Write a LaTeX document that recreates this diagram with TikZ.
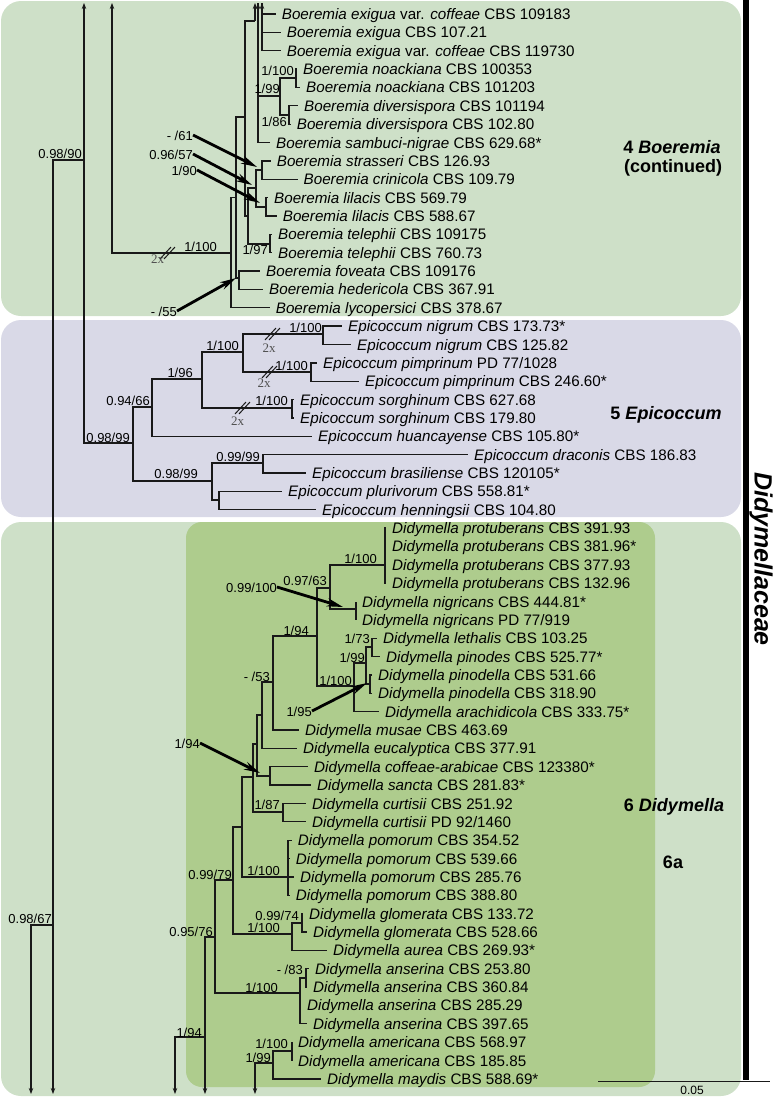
\documentclass[tikz,border=0pt]{standalone}
\usepackage{fontspec}
\setmainfont{Liberation Sans}
\newfontfamily\twoxfont{Liberation Serif}
\usetikzlibrary{arrows.meta, calc}
\definecolor{cBoer}{RGB}{206,224,200}
\definecolor{cEpic}{RGB}{217,217,231}
\definecolor{cDidA}{RGB}{174,204,141}
\definecolor{cLine}{RGB}{25,25,25}
\definecolor{cTwoX}{RGB}{80,80,80}
\tikzset{
  branch/.style={draw=cLine, line width=1.3pt},
  tipend/.style={-{Stealth[length=6pt,width=4.5pt]}},
  taxon/.style={anchor=west, inner sep=0pt, font=\fontsize{15.2}{18}\selectfont,
                text height=13pt, text depth=2pt},
  suplbl/.style={anchor=east, inner sep=0pt, font=\fontsize{13}{15}\selectfont,
                 text height=11pt, text depth=1pt},
  suparrow/.style={draw=black, line width=2.8pt, -{Stealth[length=16pt,width=8pt]}},
  twox/.style={font=\twoxfont\fontsize{13}{15}\selectfont, text=cTwoX, inner sep=0pt},
  cladelbl/.style={font=\bfseries\fontsize{18}{21}\selectfont, inner sep=0pt},
  brk/.pic={\draw[cLine, line width=1pt] (-7,6) -- (4,-6) (-3,6) -- (8,-6);},
}

\begin{document}
\begin{tikzpicture}[x=1pt, y=-1pt]
\useasboundingbox (0,0) rectangle (774,1098);

%% ============================================================
%%  CLADE BOXES
%% ============================================================
\fill[cBoer, rounded corners=20pt] (1,1) rectangle (741,316);
\fill[cEpic, rounded corners=20pt] (1,320) rectangle (741,517);
\fill[cBoer, rounded corners=20pt] (1,522) rectangle (741,1096);
\fill[cDidA, rounded corners=16pt] (186,522) rectangle (655,1087);
\fill[black] (743,0) rectangle (748.5,1080);

%% ============================================================
%%  INTERNAL NODES
%% ============================================================
%% Boeremia
\coordinate (bTop) at (112,3);
\coordinate (bUp1) at (255,3);
\coordinate (bUp2) at (258,3);
\coordinate (bUp3) at (262,3);
\coordinate (nB0) at (231,253);
\coordinate (nB1) at (236,197.5);
\coordinate (nB2) at (239,278);
\coordinate (nB3) at (245,117);
\coordinate (nB3a) at (255,21);
\coordinate (nB4) at (248,216);
\coordinate (nB5) at (262,170);
\coordinate (nB6) at (256,188);
\coordinate (nB7) at (266,207);
\coordinate (nB8) at (270,244);
\coordinate (nD1) at (280,96);
\coordinate (nD2) at (296,78);
\coordinate (nD3) at (289,115);
%% Epicoccum
\coordinate (eTop) at (84,3);
\coordinate (nF0) at (84,160);
\coordinate (nE0) at (133,443);
\coordinate (nE5) at (152,407);
\coordinate (nE6) at (202,379);
\coordinate (nE7) at (243,352);
\coordinate (nNig) at (323,334);
\coordinate (nPim) at (311,372);
\coordinate (nSor) at (292,408);
\coordinate (nE2) at (212,481);
\coordinate (nE4) at (263,463);
\coordinate (nE3) at (219,500);
%% backbone
\coordinate (rBot1) at (31,1094);
\coordinate (rBot2) at (53,1094);
\coordinate (nR2) at (53,925);
%% Didymella
\coordinate (mBot0) at (175,1094);
\coordinate (mBot1) at (205,1094);
\coordinate (nM1) at (205,1037);
\coordinate (nM2) at (215,937);
\coordinate (nM3) at (233,880);
\coordinate (nM4) at (242,827);
\coordinate (nM5) at (253,777);
\coordinate (nM6) at (257,744);
\coordinate (nM7) at (262,715);
\coordinate (nM8) at (273,682);
\coordinate (nM9) at (317,636);
\coordinate (nM10) at (330,588);
\coordinate (nPro) at (385,565);
\coordinate (nNgr) at (356,609);
\coordinate (nL) at (354,686);
\coordinate (nL1) at (366,663);
\coordinate (nL2) at (372,647);
\coordinate (nPdl) at (370,684);
\coordinate (nCof) at (270,776);
\coordinate (nCur) at (283,812);
\coordinate (nPom) at (288,877);
\coordinate (nGlo) at (292,934);
\coordinate (nGl2) at (302,923);
\coordinate (nAns) at (300,993);
\coordinate (nAn2) at (306,978);
\coordinate (aBot) at (255,1094);
\coordinate (nA1) at (273,1063);
\coordinate (nAm) at (292,1051);

%% ============================================================
%%  TAXA
%% ============================================================
\node[taxon] (bEx1) at (281.7,14.0) {\textit{Boeremia exigua} var. \textit{coffeae} CBS 109183};
\node[taxon] (bEx2) at (286.7,32.4) {\textit{Boeremia exigua} CBS 107.21};
\node[taxon] (bEx3) at (286.7,50.7) {\textit{Boeremia exigua} var. \textit{coffeae} CBS 119730};
\node[taxon] (bNoa1) at (303,69.1) {\textit{Boeremia noackiana} CBS 100353};
\node[taxon] (bNoa2) at (306,87.4) {\textit{Boeremia noackiana} CBS 101203};
\node[taxon] (bDiv1) at (304,105.8) {\textit{Boeremia diversispora} CBS 101194};
\node[taxon] (bDiv2) at (296.7,124.2) {\textit{Boeremia diversispora} CBS 102.80};
\node[taxon] (bSam) at (276,142.5) {\textit{Boeremia sambuci-nigrae} CBS 629.68*};
\node[taxon] (bStr) at (276.7,160.9) {\textit{Boeremia strasseri} CBS 126.93};
\node[taxon] (bCri) at (303.5,179.2) {\textit{Boeremia crinicola} CBS 109.79};
\node[taxon] (bLil1) at (274,197.6) {\textit{Boeremia lilacis} CBS 569.79};
\node[taxon] (bLil2) at (282.7,216.0) {\textit{Boeremia lilacis} CBS 588.67};
\node[taxon] (bTel1) at (278,234.3) {\textit{Boeremia telephii} CBS 109175};
\node[taxon] (bTel2) at (278,252.7) {\textit{Boeremia telephii} CBS 760.73};
\node[taxon] (bFov) at (266,271.0) {\textit{Boeremia foveata} CBS 109176};
\node[taxon] (bHed) at (269,289.4) {\textit{Boeremia hedericola} CBS 367.91};
\node[taxon] (bLyc) at (275.7,307.8) {\textit{Boeremia lycopersici} CBS 378.67};

\node[taxon] (eNig1) at (348,326.1) {\textit{Epicoccum nigrum} CBS 173.73*};
\node[taxon] (eNig2) at (357,344.5) {\textit{Epicoccum nigrum} CBS 125.82};
\node[taxon] (ePim1) at (323,362.9) {\textit{Epicoccum pimprinum} PD 77/1028};
\node[taxon] (ePim2) at (365,381.2) {\textit{Epicoccum pimprinum} CBS 246.60*};
\node[taxon] (eSor1) at (300,399.6) {\textit{Epicoccum sorghinum} CBS 627.68};
\node[taxon] (eSor2) at (300,417.9) {\textit{Epicoccum sorghinum} CBS 179.80};
\node[taxon] (eHua) at (318,436.3) {\textit{Epicoccum huancayense} CBS 105.80*};
\node[taxon] (eDra) at (474,454.6) {\textit{Epicoccum draconis} CBS 186.83};
\node[taxon] (eBra) at (312,473.0) {\textit{Epicoccum brasiliense} CBS 120105*};
\node[taxon] (ePlu) at (288,491.4) {\textit{Epicoccum plurivorum} CBS 558.81*};
\node[taxon] (eHen) at (322,509.7) {\textit{Epicoccum henningsii} CBS 104.80};

\node[taxon] (dPro1) at (392,528.1) {\textit{Didymella protuberans} CBS 391.93};
\node[taxon] (dPro2) at (392,546.4) {\textit{Didymella protuberans} CBS 381.96*};
\node[taxon] (dPro3) at (392,564.8) {\textit{Didymella protuberans} CBS 377.93};
\node[taxon] (dPro4) at (392,583.2) {\textit{Didymella protuberans} CBS 132.96};
\node[taxon] (dNig1) at (362,601.5) {\textit{Didymella nigricans} CBS 444.81*};
\node[taxon] (dNig2) at (362,619.9) {\textit{Didymella nigricans} PD 77/919};
\node[taxon] (dLet) at (383,638.2) {\textit{Didymella lethalis} CBS 103.25};
\node[taxon] (dPin) at (386,656.6) {\textit{Didymella pinodes} CBS 525.77*};
\node[taxon] (dPdl1) at (378,675.0) {\textit{Didymella pinodella} CBS 531.66};
\node[taxon] (dPdl2) at (378,693.3) {\textit{Didymella pinodella} CBS 318.90};
\node[taxon] (dAra) at (385,711.7) {\textit{Didymella arachidicola} CBS 333.75*};
\node[taxon] (dMus) at (305,730.0) {\textit{Didymella musae} CBS 463.69};
\node[taxon] (dEuc) at (303,748.4) {\textit{Didymella eucalyptica} CBS 377.91};
\node[taxon] (dCof) at (314,766.8) {\textit{Didymella coffeae-arabicae} CBS 123380*};
\node[taxon] (dSan) at (317,785.1) {\textit{Didymella sancta} CBS 281.83*};
\node[taxon] (dCur1) at (312,803.5) {\textit{Didymella curtisii} CBS 251.92};
\node[taxon] (dCur2) at (312,821.8) {\textit{Didymella curtisii} PD 92/1460};
\node[taxon] (dPom1) at (297.7,840.2) {\textit{Didymella pomorum} CBS 354.52};
\node[taxon] (dPom2) at (295.7,858.6) {\textit{Didymella pomorum} CBS 539.66};
\node[taxon] (dPom3) at (300,876.9) {\textit{Didymella pomorum} CBS 285.76};
\node[taxon] (dPom4) at (295.7,895.3) {\textit{Didymella pomorum} CBS 388.80};
\node[taxon] (dGlo1) at (309,913.6) {\textit{Didymella glomerata} CBS 133.72};
\node[taxon] (dGlo2) at (313,932.0) {\textit{Didymella glomerata} CBS 528.66};
\node[taxon] (dAur) at (333,950.4) {\textit{Didymella aurea} CBS 269.93*};
\node[taxon] (dAns1) at (315,968.7) {\textit{Didymella anserina} CBS 253.80};
\node[taxon] (dAns2) at (313,987.1) {\textit{Didymella anserina} CBS 360.84};
\node[taxon] (dAns3) at (307,1005.4) {\textit{Didymella anserina} CBS 285.29};
\node[taxon] (dAns4) at (313,1023.8) {\textit{Didymella anserina} CBS 397.65};
\node[taxon] (dAme1) at (298,1042.2) {\textit{Didymella americana} CBS 568.97};
\node[taxon] (dAme2) at (298,1060.5) {\textit{Didymella americana} CBS 185.85};
\node[taxon] (dMay) at (327,1078.9) {\textit{Didymella maydis} CBS 588.69*};

%% ============================================================
%%  BRANCHES
%% ============================================================
\foreach \p/\c in {nB0/nB1, nB1/nB3, nB1/nB2, nB3/nB3a, nB3/nB4, nB4/nB6, nB4/nB8,
                   nB6/nB5, nB6/nB7, bUp2/nD1, nD1/nD2, nD1/nD3,
                   nE0/nE5, nE0/nE2, nE5/nE6, nE6/nE7, nE6/nSor, nE7/nNig, nE7/nPim,
                   nE2/nE4, nE2/nE3,
                   nM2/nM3, nM2/nAns, nM3/nM4, nM3/nGlo, nM4/nM5, nM4/nPom, nM5/nM6,
                   nM5/nCur, nM6/nM7, nM6/nCof, nM7/nM8, nM8/nM9, nM9/nM10, nM9/nL,
                   nM10/nPro, nM10/nNgr, nL/nL1, nL1/nL2, nL1/nPdl, nGlo/nGl2,
                   nAns/nAn2, nA1/nAm}
  \draw[branch] (\p) |- (\c);

\foreach \p/\c in {bUp3/bEx1, bUp3/bEx2, nD2/bNoa1, nD2/bNoa2, nD3/bDiv1, nD3/bDiv2,
                   nB5/bStr, nB5/bCri, nB7/bLil1, nB7/bLil2, nB8/bTel1, nB8/bTel2,
                   nB2/bFov, nB2/bHed, nB0/bLyc,
                   nNig/eNig1, nNig/eNig2, nPim/ePim1, nPim/ePim2, nSor/eSor1, nSor/eSor2,
                   nE5/eHua, nE4/eDra, nE4/eBra, nE3/ePlu, nE3/eHen,
                   nPro/dPro1, nPro/dPro2, nPro/dPro3, nPro/dPro4, nNgr/dNig1, nNgr/dNig2,
                   nL2/dLet, nL2/dPin, nPdl/dPdl1, nPdl/dPdl2, nL/dAra, nM8/dMus,
                   nM7/dEuc, nCof/dCof, nCof/dSan, nCur/dCur1, nCur/dCur2,
                   nPom/dPom1, nPom/dPom2, nPom/dPom3, nPom/dPom4, nGl2/dGlo1, nGl2/dGlo2,
                   nGlo/dAur, nAn2/dAns1, nAn2/dAns2, nAns/dAns3, nAns/dAns4,
                   nAm/dAme1, nAm/dAme2, nA1/dMay}
  \draw[branch] (\p) |- ([xshift=-6pt]\c.west);

%% continuation arrows (previous / next page)
\draw[branch, tipend] (nB0) -| (bTop);
\draw[branch, tipend] (nB3a) -- (bUp1);
\draw[branch, tipend] ([xshift=-6pt]bSam.west) -| (bUp2);
\draw[branch, tipend] ([xshift=-6pt]bEx3.west) -| (bUp3);
\draw[branch, tipend] (nE0) -| (eTop);
\draw[branch, tipend] (nF0) -| (rBot2);
\draw[branch, tipend] (nR2) -| (rBot1);
\draw[branch, tipend] (nM2) -| (mBot1);
\draw[branch, tipend] (nM1) -| (mBot0);
\draw[branch, tipend] (nA1) -| (aBot);

%% long-branch breaks
\pic at (167,253) {brk};
\pic at (272,334) {brk};
\pic at (269,372) {brk};
\pic at (242,408) {brk};
\node[twox] (tx1) at (157.5,259) {2x};
\node[twox] (tx2) at (269,348) {2x};
\node[twox] (tx3) at (264,383) {2x};
\node[twox] (tx4) at (237.5,421) {2x};

%% ============================================================
%%  SUPPORT VALUES
%% ============================================================
\node[suplbl] (sF0) at (82,153) {0.98/90};
\node[suplbl] (sB5) at (193,135) {- /61};
\node[suplbl] (sB6) at (193,154) {0.96/57};
\node[suplbl] (sB7) at (197,170) {1/90};
\node[suplbl] (sB0) at (217,246) {1/100};
\node[suplbl] (sB8) at (268,249) {1/97};
\node[suplbl] (sB2) at (177,311) {- /55};
\node[suplbl] (sD2) at (294,70) {1/100};
\node[suplbl] (sD1) at (280,88) {1/99};
\node[suplbl] (sD3) at (287,121) {1/86};

\node[suplbl] (sE0) at (130,437) {0.98/99};
\node[suplbl] (sE5) at (150,400) {0.94/66};
\node[suplbl] (sE6) at (193,372) {1/96};
\node[suplbl] (sE7) at (239,345) {1/100};
\node[suplbl] (sNig) at (322,327) {1/100};
\node[suplbl] (sPim) at (308,365) {1/100};
\node[suplbl] (sSor) at (288,400) {1/100};
\node[suplbl] (sE4) at (260,456) {0.99/99};
\node[suplbl] (sE2) at (198,473) {0.98/99};

\node[suplbl] (sR2) at (52,918) {0.98/67};
\node[suplbl] (sPro) at (377,558) {1/100};
\node[suplbl] (sM10) at (327,580) {0.97/63};
\node[suplbl] (sNgr) at (277,587) {0.99/100};
\node[suplbl] (sM9) at (309,630) {1/94};
\node[suplbl] (sL2) at (370,638) {1/73};
\node[suplbl] (sL1) at (365,657) {1/99};
\node[suplbl] (sL) at (352,680) {1/100};
\node[suplbl] (sM8) at (270,676) {- /53};
\node[suplbl] (sPdl) at (312,711) {1/95};
\node[suplbl] (sCof) at (200,743) {1/94};
\node[suplbl] (sCur) at (280,804) {1/87};
\node[suplbl] (sM4) at (232,874) {0.99/79};
\node[suplbl] (sPom) at (280,870) {1/100};
\node[suplbl] (sGl2) at (299,915) {0.99/74};
\node[suplbl] (sGlo) at (280,927) {1/100};
\node[suplbl] (sM2) at (213,931) {0.95/76};
\node[suplbl] (sAn2) at (303,969) {- /83};
\node[suplbl] (sAns) at (278,987) {1/100};
\node[suplbl] (sM1) at (202,1032) {1/94};
\node[suplbl] (sAm) at (288,1043) {1/100};
\node[suplbl] (sA1) at (271,1057) {1/99};

%% pointer arrows to short branches
\draw[suparrow] (sB5.east) -- ($(nB5)+(-5,-3)$);
\draw[suparrow] (sB6.east) -- ($(nB6)+(-4,-3)$);
\draw[suparrow] (sB7.east) -- ($(nB7)+(-6,-4)$);
\draw[suparrow] (sB2.east) -- ($(nB2)+(-3,0)$);
\draw[suparrow] (sNgr.east) -- ($(nNgr)+(-13,-2)$);
\draw[suparrow] (sPdl.east) -- ($(nPdl)+(-3,-1)$);
\draw[suparrow] (sCof.east) -- ($(nCof)+(-10,-3)$);

%% ============================================================
%%  CLADE LABELS, FAMILY, SCALE
%% ============================================================
\node[cladelbl] (lblBoer) at (672,147) {4 \textit{Boeremia}};
\node[cladelbl] (lblCont) at (673,168) {(continued)};
\node[cladelbl] (lblEpic) at (666,415) {5 \textit{Epicoccum}};
\node[cladelbl] (lblDidy) at (674,807) {6 \textit{Didymella}};
\node[cladelbl] (lbl6a) at (673,862) {6a};
\node[font=\bfseries\itshape\fontsize{25}{28}\selectfont, rotate=-90, inner sep=0pt]
  (lblFam) at (761,559) {Didymellaceae};

\coordinate (sbL) at (598,1081);
\coordinate (sbR) at (770,1081);
\draw[branch, line width=1pt] (sbL) -- (sbR);
\node[font=\fontsize{12}{14}\selectfont, inner sep=0pt] (sbLbl) at (692,1090) {0.05};

\end{tikzpicture}
\end{document}
